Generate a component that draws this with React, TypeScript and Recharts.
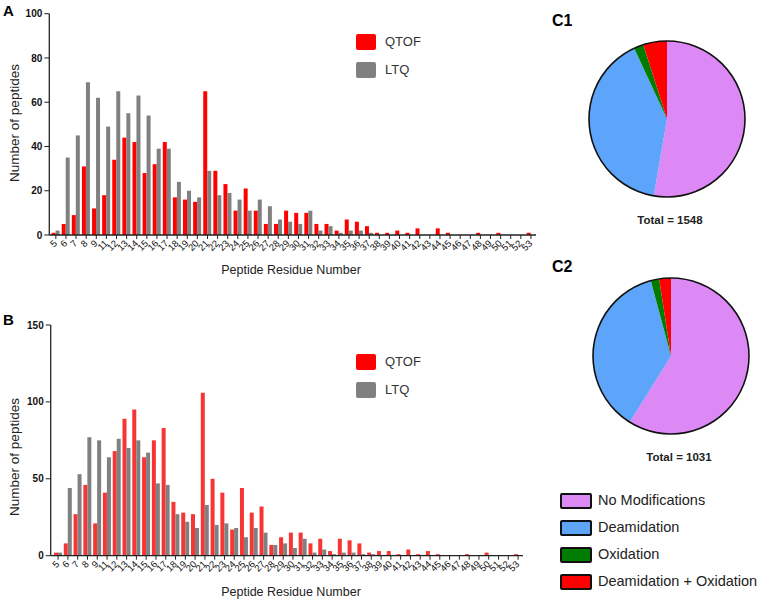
import React from 'react';
import { BarChart, Bar, XAxis, YAxis, PieChart, Pie, Cell } from 'recharts';

const FONT = "Arial, 'Liberation Sans', Helvetica, sans-serif";

// residue numbers on the x axis (10 is absent in the source)
const residues = [
  '5', '6', '7', '8', '9', '11', '12', '13', '14', '15', '16', '17', '18', '19', '20', '21',
  '22', '23', '24', '25', '26', '27', '28', '29', '30', '31', '32', '33', '34', '35', '36', '37',
  '38', '39', '40', '41', '42', '43', '44', '45', '46', '47', '48', '49', '50', '51', '52', '53',
];

// panel A
const qtofA = [1, 5, 9, 31, 12, 18, 34, 44, 42, 28, 32, 42, 17, 16, 15, 65, 29, 23, 11, 21, 11, 5, 5, 11, 10, 10, 5, 5, 2, 7, 6, 4, 1, 1, 2, 1, 3, 0, 3, 1, 0, 0, 1, 0, 1, 0, 0, 1];
const ltqA = [2, 35, 45, 69, 62, 49, 65, 55, 63, 54, 39, 39, 24, 20, 17, 29, 18, 19, 16, 11, 16, 13, 7, 6, 5, 11, 2, 4, 1, 2, 2, 1, 0, 0, 0, 0, 0, 0, 0, 0, 0, 0, 0, 0, 0, 0, 0, 0];

// panel B
const qtofB = [2, 8, 27, 46, 21, 41, 68, 89, 95, 64, 75, 83, 35, 28, 27, 106, 50, 41, 17, 44, 28, 32, 7, 12, 15, 15, 8, 11, 3, 11, 10, 8, 2, 3, 3, 1, 4, 1, 3, 1, 0, 0, 1, 0, 2, 0, 0, 1];
const ltqB = [2, 44, 53, 77, 75, 64, 76, 70, 75, 67, 47, 46, 27, 22, 18, 33, 20, 21, 18, 12, 18, 15, 7, 8, 5, 11, 2, 4, 1, 2, 2, 1, 1, 0, 0, 0, 0, 0, 0, 0, 0, 0, 0, 0, 0, 0, 0, 0];

const ticksA = [0, 20, 40, 60, 80, 100];
const ticksB = [0, 50, 100, 150];

// pies
const modNames = ['No Modifications', 'Deamidation', 'Oxidation', 'Deamidation + Oxidation'];
const modColors = ['#DC89F5', '#5CA5FA', '#007D00', '#FF0000'];
const countsC1 = [816, 625, 31, 76];
const countsC2 = [607, 381, 18, 25];

const rowsA = residues.map((r, i) => ({ res: r, qtof: qtofA[i], ltq: ltqA[i] }));
const rowsB = residues.map((r, i) => ({ res: r, qtof: qtofB[i], ltq: ltqB[i] }));
const pieC1 = modNames.map((n, i) => ({ name: n, value: countsC1[i] }));
const pieC2 = modNames.map((n, i) => ({ name: n, value: countsC2[i] }));

const AngledTick = (props: any) => {
  const { x, y, payload } = props;
  const ax = x + 2;
  const ay = y + 3;
  return (
    <text x={ax} y={ay} transform={`rotate(-45 ${ax} ${ay})`} textAnchor="end" fontSize={9.5} fill="#111" fontFamily={FONT}>
      {payload.value}
    </text>
  );
};

const abs = (left: number, top: number, extra: any = {}) => ({
  position: 'absolute' as const,
  left,
  top,
  fontFamily: FONT,
  whiteSpace: 'nowrap' as const,
  ...extra,
});

const centered = (x: number, y: number, extra: any = {}) =>
  abs(x, y, { transform: 'translate(-50%, -50%)', ...extra });

function Histogram(props: any) {
  const { rows, top, marginTop, height, yWidth, right, padLeft, domain, ticks, red } = props;
  return (
    <div style={{ position: 'absolute', left: 0, top }}>
      <BarChart
        width={560}
        height={height}
        data={rows}
        margin={{ top: marginTop, right, left: 0, bottom: 0 }}
        barCategoryGap="8%"
        barGap={0}
      >
        <XAxis
          dataKey="res"
          interval={0}
          height={30}
          tick={AngledTick}
          tickSize={4}
          tickMargin={2}
          axisLine={{ stroke: '#222', strokeWidth: 1.3 }}
          tickLine={{ stroke: '#222' }}
          padding={{ left: padLeft, right: 0 }}
        />
        <YAxis
          domain={domain}
          ticks={ticks}
          interval={0}
          width={yWidth}
          tickSize={5}
          tickMargin={2}
          axisLine={{ stroke: '#222', strokeWidth: 1.3 }}
          tickLine={{ stroke: '#222' }}
          tick={{ fontSize: 10, fontWeight: 'bold', fill: '#111', fontFamily: FONT }}
        />
        <Bar dataKey="qtof" fill={red} isAnimationActive={false} />
        <Bar dataKey="ltq" fill="#808080" isAnimationActive={false} />
      </BarChart>
    </div>
  );
}

function SeriesLegend(props: any) {
  const { top } = props;
  const items = [
    { label: 'QTOF', color: '#FF0000' },
    { label: 'LTQ', color: '#808080' },
  ];
  return (
    <>
      {items.map((it, i) => (
        <React.Fragment key={it.label}>
          <div style={abs(356, top + i * 27.5, { width: 20, height: 16, background: it.color, borderRadius: 2 })} />
          <div style={abs(385, top + i * 27.5 - 1, { fontSize: 13, lineHeight: '18px', color: '#333' })}>{it.label}</div>
        </React.Fragment>
      ))}
    </>
  );
}

function ModPie(props: any) {
  const { data, left, top } = props;
  const size = 162;
  const r = 78;
  return (
    <div style={{ position: 'absolute', left, top, width: size, height: size }}>
      <PieChart width={size} height={size} margin={{ top: 0, right: 0, bottom: 0, left: 0 }}>
        <Pie
          data={data}
          dataKey="value"
          cx={size / 2}
          cy={size / 2}
          outerRadius={r}
          startAngle={90}
          endAngle={-270}
          stroke="none"
          isAnimationActive={false}
        >
          {data.map((d: any, i: number) => (
            <Cell key={d.name} fill={modColors[i]} />
          ))}
        </Pie>
      </PieChart>
      <svg
        width={size}
        height={size}
        style={{ position: 'absolute', left: 0, top: 0, zIndex: 10, pointerEvents: 'none' }}
      >
        <circle cx={size / 2} cy={size / 2} r={r} fill="none" stroke="#111" strokeWidth={1.6} />
      </svg>
    </div>
  );
}

export default function App() {
  return (
    <div style={{ position: 'absolute', left: 0, top: 0, width: 779, height: 605, background: '#fff', overflow: 'hidden' }}>
      {/* panel A */}
      <div style={abs(3, 2, { fontSize: 15, fontWeight: 'bold' })}>A</div>
      <Histogram rows={rowsA} top={0} marginTop={13.7} height={265} yWidth={49.3} right={24} padLeft={1.5}
        domain={[0, 100]} ticks={ticksA} red="#FF0000" />
      <div style={centered(14, 123, { fontSize: 13.5, color: '#222', transform: 'translate(-50%, -50%) rotate(-90deg)' })}>
        Number of peptides
      </div>
      <div style={centered(291, 270, { fontSize: 12.5, color: '#222' })}>Peptide Residue Number</div>
      <SeriesLegend top={34} />

      {/* panel B */}
      <div style={abs(3, 311, { fontSize: 15, fontWeight: 'bold' })}>B</div>
      <Histogram rows={rowsB} top={300} marginTop={25} height={285.7} yWidth={50.7} right={37} padLeft={2.5}
        domain={[0, 150]} ticks={ticksB} red="#F73535" />
      <div style={centered(14, 457, { fontSize: 13.5, color: '#222', transform: 'translate(-50%, -50%) rotate(-90deg)' })}>
        Number of peptides
      </div>
      <div style={centered(291, 592, { fontSize: 12.5, color: '#222' })}>Peptide Residue Number</div>
      <SeriesLegend top={354} />

      {/* panel C */}
      <div style={abs(552, 12, { fontSize: 16, fontWeight: 'bold' })}>C1</div>
      <ModPie data={pieC1} left={586} top={38} />
      <div style={centered(670, 219.5, { fontSize: 11.5, fontWeight: 'bold', color: '#222' })}>Total = 1548</div>

      <div style={abs(552, 258, { fontSize: 16, fontWeight: 'bold' })}>C2</div>
      <ModPie data={pieC2} left={590} top={275} />
      <div style={centered(679, 457, { fontSize: 11.5, fontWeight: 'bold', color: '#222' })}>Total = 1031</div>

      {modNames.map((n, i) => (
        <React.Fragment key={n}>
          <div style={abs(560, 492.5 + i * 27.2, {
            width: 28, height: 12, background: modColors[i], border: '2px solid #111', borderRadius: 2,
          })} />
          <div style={abs(598, 490.5 + i * 27.2, { fontSize: 14.5, lineHeight: '18px', color: '#222' })}>{n}</div>
        </React.Fragment>
      ))}
    </div>
  );
}
